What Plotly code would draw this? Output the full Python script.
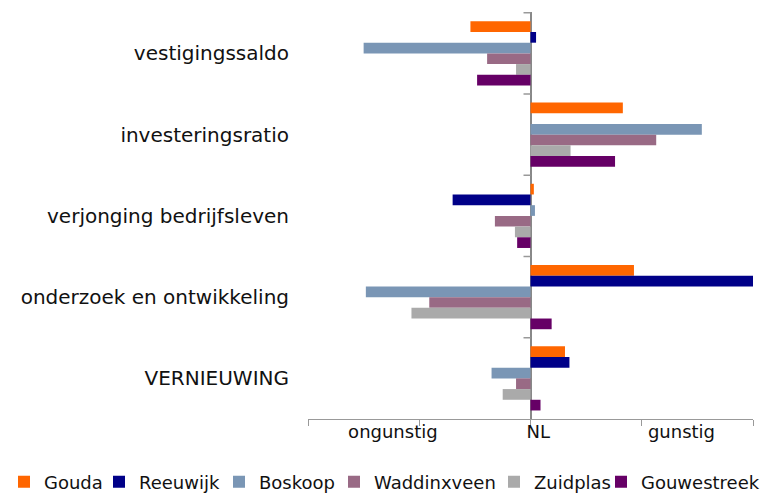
import plotly.graph_objects as go

categories = ["vestigingssaldo", "investeringsratio", "verjonging bedrijfsleven",
              "onderzoek en ontwikkeling", "VERNIEUWING"]
series_names = ["Gouda", "Reeuwijk", "Boskoop", "Waddinxveen", "Zuidplas", "Gouwestreek"]
gouda = [-0.54, 0.83, 0.03, 0.93, 0.31]
reeuwijk = [0.05, 0.0, -0.70, 2.0, 0.35]
boskoop = [-1.50, 1.54, 0.04, -1.48, -0.35]
waddinxveen = [-0.39, 1.13, -0.32, -0.91, -0.13]
zuidplas = [-0.13, 0.36, -0.14, -1.07, -0.25]
gouwestreek = [-0.48, 0.76, -0.12, 0.19, 0.09]
x_tick_labels = ["ongunstig", "NL", "gunstig"]
x_label_positions = [-1.237, 0.069, 1.357]
x_ticks = [-2, -1, 0, 1, 2]

colors = ["#FF6600", "#000088", "#7A96B5", "#996A85", "#AAAAAA", "#660066"]
values = [gouda, reeuwijk, boskoop, waddinxveen, zuidplas, gouwestreek]
legend_text_x = [42, 137, 257, 372, 532, 639]  # pixel positions of legend texts

W, H = 765, 493
ml, mr, mt, mb = 308, 12, 12, 74
pw, ph = W - ml - mr, H - mt - mb

fig = go.Figure()
for i, (name, vals, col) in enumerate(zip(series_names, values, colors)):
    fig.add_trace(go.Bar(
        y=categories, x=vals, name=name, orientation="h",
        marker=dict(color=col, line=dict(width=0)),
        legend="legend" if i == 0 else f"legend{i+1}",
    ))

font_family = "DejaVu Sans"
legends = {}
for i, tx in enumerate(legend_text_x):
    key = "legend" if i == 0 else f"legend{i+1}"
    legends[key] = dict(
        x=(tx - 38 - ml) / pw, xanchor="left",
        y=(mt + ph - 482) / ph, yanchor="middle",
        orientation="h", font=dict(size=18, color="#111", family=font_family),
        bgcolor="rgba(0,0,0,0)", borderwidth=0,
        itemclick=False, itemdoubleclick=False,
    )

shapes = []
for i in range(len(categories)):
    shapes.append(dict(type="line", xref="x", yref="y", xsizemode="pixel", xanchor=0,
                       x0=-7, x1=0, y0=i - 0.5, y1=i - 0.5,
                       line=dict(color="#999999", width=1.5)))

fig.update_layout(
    width=W, height=H,
    margin=dict(l=ml, r=mr, t=mt, b=mb, autoexpand=False),
    paper_bgcolor="white", plot_bgcolor="white",
    barmode="group", bargap=0.21, bargroupgap=0,
    font=dict(family=font_family, color="#111"),
    shapes=shapes,
    xaxis=dict(
        range=[-2, 2], showgrid=False, automargin=False,
        zeroline=True, zerolinecolor="#888888", zerolinewidth=1.5,
        showline=True, linecolor="#999999", linewidth=1,
        tickmode="array", tickvals=x_label_positions, ticktext=x_tick_labels,
        ticks="", tickfont=dict(size=18, color="#111"), ticklabelstandoff=-4,
        minor=dict(tickmode="array", tickvals=x_ticks, ticks="outside",
                   ticklen=6, tickcolor="#999999", showgrid=False),
    ),
    yaxis=dict(
        autorange="reversed", showgrid=False, showline=False, zeroline=False,
        automargin=False,
        ticks="", tickfont=dict(size=20, color="#111"), ticklabelstandoff=18,
    ),
    showlegend=True,
    **legends,
)

fig.write_html("out.html", config={"displayModeBar": False},
               post_script="document.body.style.margin='0';document.body.style.overflow='hidden';")
